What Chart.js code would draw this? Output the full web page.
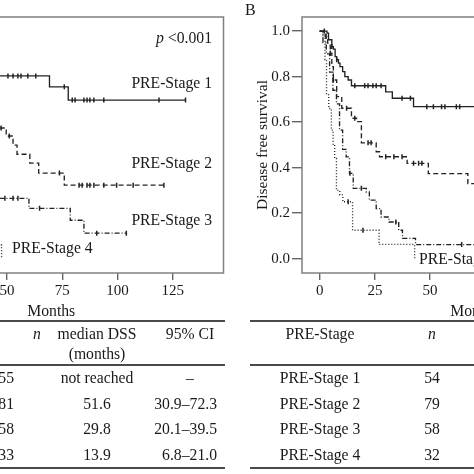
<!DOCTYPE html>
<html>
<head>
<meta charset="utf-8">
<script src="https://cdn.jsdelivr.net/npm/chart.js@4.4.1/dist/chart.umd.min.js"></script>
<style>
  body { margin: 0; width: 474px; height: 474px; overflow: hidden; background: #fff; position: relative;
         font-family: "Liberation Serif", "DejaVu Serif", serif; color: #1a1a1a; }
  canvas { position: absolute; top: 0; }
  #chartA { left: -171px; }
  #chartB { left: 252px; }
  .txt { position: absolute; font-size: 15.7px; line-height: 18px; white-space: nowrap; }
  .rule { position: absolute; height: 2px; background: #4a4a4a; }
</style>
</head>
<body>
<canvas id="chartA" width="400" height="321"></canvas>
<canvas id="chartB" width="400" height="321"></canvas>

<div class="txt" style="left:245px; top:1px; font-size:16px;">B</div>

<div class="txt" style="right:262px; top:29px;"><i>p</i> &lt;0.001</div>
<div class="txt" style="right:262px; top:74px;">PRE-Stage 1</div>
<div class="txt" style="right:262px; top:154px;">PRE-Stage 2</div>
<div class="txt" style="right:262px; top:211px;">PRE-Stage 3</div>
<div class="txt" style="left:12px; top:239px;">PRE-Stage 4</div>
<div class="txt" style="left:419px; top:250px;">PRE-Stage 4</div>

<div class="rule" style="left:0; width:225px; top:320px;"></div>
<div class="rule" style="left:0; width:225px; top:364px;"></div>
<div class="rule" style="left:0; width:225px; top:467px;"></div>
<div class="rule" style="left:250px; width:224px; top:320px;"></div>
<div class="rule" style="left:250px; width:224px; top:364px;"></div>
<div class="rule" style="left:250px; width:224px; top:467px;"></div>

<div class="txt" style="left:27px; width:20px; text-align:center; top:325px;"><i>n</i></div>
<div class="txt" style="left:47px; width:100px; text-align:center; top:325px;">median DSS</div>
<div class="txt" style="left:47px; width:100px; text-align:center; top:345px;">(months)</div>
<div class="txt" style="left:150px; width:80px; text-align:center; top:325px;">95% CI</div>
<div class="txt" style="left:270px; width:100px; text-align:center; top:325px;">PRE-Stage</div>
<div class="txt" style="left:412px; width:40px; text-align:center; top:325px;"><i>n</i></div>
<div id="rows"></div>

<script>
const STAGES = ['PRE-Stage 1', 'PRE-Stage 2', 'PRE-Stage 3', 'PRE-Stage 4'];
const MONTH_TICKS = [0, 25, 50, 75, 100, 125];
const SURV_TICKS = [0, 0.2, 0.4, 0.6, 0.8, 1.0];

// A: disease specific survival (left part of panel is cut off)
const dssTime1 = [0, 6, 12, 18, 24, 30, 37, 43, 69.2, 77.7, 130.8];
const dssSurv1 = [1, 0.98, 0.96, 0.93, 0.90, 0.87, 0.84, 0.803, 0.755, 0.697, 0.697];
const dssTime2 = [0, 4, 8, 12, 16, 20, 25, 30, 36, 42, 45, 49.6, 52.7, 54.5, 60.3, 64.3, 75.9, 121];
const dssSurv2 = [1, 0.96, 0.91, 0.86, 0.80, 0.75, 0.70, 0.66, 0.62, 0.59, 0.574, 0.539, 0.499, 0.459, 0.420, 0.376, 0.323, 0.323];
const dssTime3 = [0, 3, 6, 10, 14, 18, 22, 26, 29.8, 33, 37, 41, 44, 59.9, 78.6, 84.8, 104];
const dssSurv3 = [1, 0.95, 0.88, 0.80, 0.72, 0.65, 0.58, 0.53, 0.48, 0.42, 0.36, 0.31, 0.265, 0.221, 0.169, 0.112, 0.112];
const dssTime4 = [0, 2, 4, 7, 10, 13.9, 17, 21, 26, 32, 38, 47.5];
const dssSurv4 = [1, 0.94, 0.85, 0.73, 0.61, 0.48, 0.36, 0.27, 0.18, 0.12, 0.06, 0];
const dssCens1 = [20, 33, 40, 50.4, 52.7, 54.9, 56.3, 59.4, 63, 75.9, 79.5, 80.8, 84.8, 86.2, 87.5, 89.3, 93.8, 118.8, 130.8];
const dssCens2 = [28, 47.3, 51, 73.7, 82.6, 84, 86.2, 87.5, 89.3, 93.8, 99.6, 107.1, 121];
const dssCens3 = [49, 52.7, 54.9, 64.7, 90.6, 104];
const dssCens4 = [20];

// B: disease free survival
const dfsTime1 = [0, 3.3, 4.0, 5.5, 6.2, 7.0, 7.7, 8.5, 9.2, 10.4, 11.4, 12.9, 14.4, 29.9, 32.9, 42.5, 120];
const dfsSurv1 = [1, 0.991, 0.962, 0.932, 0.921, 0.888, 0.874, 0.859, 0.844, 0.822, 0.800, 0.785, 0.760, 0.733, 0.705, 0.668, 0.668];
const dfsTime2 = [0, 2.5, 3.6, 4.8, 5.5, 6.2, 7.7, 10.0, 14.4, 16.7, 18.9, 25.6, 27.1, 39.6, 49.2, 67.1, 110];
const dfsSurv2 = [1, 0.976, 0.947, 0.903, 0.844, 0.785, 0.712, 0.661, 0.617, 0.602, 0.509, 0.470, 0.448, 0.419, 0.374, 0.330, 0.330];
const dfsTime3 = [0, 1.5, 3, 4.5, 6, 7.6, 9, 10.4, 12, 13.5, 15.2, 21.1, 22.5, 25.6, 27.8, 31.4, 35.8, 37.5, 43.4, 105];
const dfsSurv3 = [1, 0.95, 0.90, 0.82, 0.74, 0.68, 0.565, 0.48, 0.447, 0.375, 0.309, 0.293, 0.257, 0.220, 0.183, 0.161, 0.125, 0.089, 0.062, 0.062];
const dfsTime4 = [0, 1.5, 2.4, 3.1, 4.1, 5.3, 6.1, 6.8, 7.6, 9.1, 10.5, 14.9, 26.9, 43];
const dfsSurv4 = [1, 0.97, 0.875, 0.72, 0.66, 0.565, 0.50, 0.44, 0.30, 0.28, 0.25, 0.125, 0.0625, 0];
const dfsCens1 = [2.1, 5.5, 7.7, 15.9, 20.4, 21.9, 24.1, 25.6, 27.8, 37.3, 41.1, 48.5, 51.5, 55.2, 56.7, 61.9, 63.4];
const dfsCens2 = [2.9, 4.8, 6.2, 12.2, 15.9, 21.9, 23.3, 29.9, 33.6, 37.3, 42.5, 44.8, 46.3];
const dfsCens3 = [13.7, 18.9, 34.5, 64.3];
const dfsCens4 = [12.9, 19.6];

// tables
const dssN = [55, 81, 58, 33];
const dssMedian = ['not reached', '51.6', '29.8', '13.9'];
const dssCI = ['–', '30.9–72.3', '20.1–39.5', '6.8–21.0'];
const dfsN = [54, 79, 58, 32];

const DASHES = [[], [5, 3], [5, 2, 1, 2], [1, 2]];
const FONT = 'Liberation Serif';
const INK = '#1a1a1a';

function survAt(times, surv, t) {
    let v = surv[0];
    for (let k = 0; k < times.length; k++) {
        if (times[k] <= t) v = surv[k];
    }
    return v;
}

const frame = {
    id: 'frame',
    afterDatasetsDraw(chart) {
        const { ctx, chartArea: a } = chart;
        ctx.save();
        ctx.strokeStyle = '#808080';
        ctx.lineWidth = 1.5;
        ctx.strokeRect(a.left, a.top, a.right - a.left, a.bottom - a.top);
        ctx.restore();
    }
};

function kmChart(id, times, survs, censors, yTitle) {
    const datasets = [];
    times.forEach((t, i) => {
        datasets.push({
            label: STAGES[i],
            data: t.map((x, k) => ({ x: x, y: survs[i][k] })),
            stepped: true,
            borderColor: '#222',
            borderWidth: 1.35,
            borderDash: DASHES[i],
            pointRadius: 0,
            fill: false
        });
    });
    censors.forEach((c, i) => {
        datasets.push({
            label: STAGES[i] + ' censored',
            data: c.map(x => ({ x: x, y: survAt(times[i], survs[i], x) })),
            showLine: false,
            pointStyle: 'line',
            rotation: 90,
            pointRadius: 2.5,
            borderColor: '#222',
            borderWidth: 1.5
        });
    });
    return new Chart(document.getElementById(id), {
        type: 'line',
        data: { datasets: datasets },
        options: {
            responsive: false,
            animation: false,
            events: [],
            layout: { padding: { top: 17, right: 0, bottom: 0, left: 0 } },
            plugins: { legend: { display: false }, tooltip: { enabled: false } },
            scales: {
                x: {
                    type: 'linear', min: -8, max: 148,
                    afterBuildTicks: s => { s.ticks = MONTH_TICKS.map(v => ({ value: v })); },
                    afterFit: s => { s.height = 48; },
                    border: { display: false },
                    grid: { drawOnChartArea: false, tickLength: 7, color: '#666', lineWidth: 1.4 },
                    ticks: { padding: 2, color: INK, font: { family: FONT, size: 15 } },
                    title: { display: true, text: 'Months', color: INK, padding: 0, font: { family: FONT, size: 15.7 } }
                },
                y: {
                    type: 'linear', min: -0.063, max: 1.062,
                    afterBuildTicks: s => { s.ticks = SURV_TICKS.map(v => ({ value: v })); },
                    afterFit: s => { s.width = 50; },
                    border: { display: false },
                    grid: { drawOnChartArea: false, tickLength: 10, color: '#666', lineWidth: 1.4 },
                    ticks: { padding: 2, color: INK, font: { family: FONT, size: 15 }, callback: v => v.toFixed(1) },
                    title: { display: true, text: yTitle, color: INK, padding: { top: 2, bottom: 0 }, font: { family: FONT, size: 15.5 } }
                }
            }
        },
        plugins: [frame]
    });
}

kmChart('chartA',
    [dssTime1, dssTime2, dssTime3, dssTime4],
    [dssSurv1, dssSurv2, dssSurv3, dssSurv4],
    [dssCens1, dssCens2, dssCens3, dssCens4],
    'Disease specific survival');

kmChart('chartB',
    [dfsTime1, dfsTime2, dfsTime3, dfsTime4],
    [dfsSurv1, dfsSurv2, dfsSurv3, dfsSurv4],
    [dfsCens1, dfsCens2, dfsCens3, dfsCens4],
    'Disease free survival');

// table rows
const rows = document.getElementById('rows');
function cell(text, style) {
    const d = document.createElement('div');
    d.className = 'txt';
    d.style.cssText = style;
    d.textContent = text;
    rows.appendChild(d);
}
STAGES.forEach((name, i) => {
    const top = 369 + i * 25.7;
    cell(String(dssN[i]), 'left:-40px; width:54px; text-align:right; top:' + top + 'px;');
    cell(dssMedian[i], 'left:47px; width:100px; text-align:center; top:' + top + 'px;');
    if (i === 0) cell(dssCI[i], 'left:170px; width:40px; text-align:center; top:' + top + 'px;');
    else cell(dssCI[i], 'left:120px; width:97px; text-align:right; top:' + top + 'px;');
    cell(name, 'left:270px; width:100px; text-align:center; top:' + top + 'px;');
    cell(String(dfsN[i]), 'left:412px; width:40px; text-align:center; top:' + top + 'px;');
});
</script>
</body>
</html>
